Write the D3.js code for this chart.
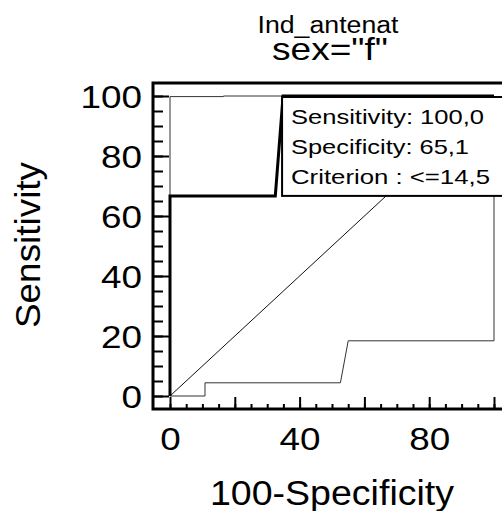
<!DOCTYPE html>
<html>
<head>
<meta charset="utf-8">
<script src="https://cdn.jsdelivr.net/npm/d3@7"></script>
<style>
  html, body { margin: 0; padding: 0; background: #fff; }
  svg { display: block; }
  text { font-family: "Liberation Sans", Arial, Helvetica, sans-serif; fill: #000; }
</style>
</head>
<body>
<svg id="chart" width="502" height="511"></svg>
<script>
// ---- data ----
const titleLine1 = "Ind_antenat";
const titleLine2 = 'sex="f"';
const xAxisTitle = "100-Specificity";
const yAxisTitle = "Sensitivity";

const xTickValues = [0, 40, 80];
const xTickMinor = d3.range(0, 101, 5);
const xTickMajorMarks = [0, 20, 40, 60, 80, 100];
const yTickValues = [0, 20, 40, 60, 80, 100];
const yTickMinor = d3.range(0, 101, 5);

// ROC curve (100-Specificity, Sensitivity)
const rocX = [0, 0, 32.5, 34.9, 100];
const rocY = [0, 66.7, 66.7, 100, 100];
// upper confidence bound
const upperX = [0, 0, 16.5, 16.5, 100];
const upperY = [0, 99.8, 99.8, 100, 100];
// lower confidence bound
const lowerX = [0, 10.8, 10.8, 52.6, 55, 100, 100];
const lowerY = [0, 0, 4.4, 4.4, 18.4, 18.4, 100];
// reference diagonal
const diagX = [0, 100];
const diagY = [0, 100];

const legendLines = ["Sensitivity: 100,0", "Specificity: 65,1", "Criterion : <=14,5"];

// ---- drawing ----
const svg = d3.select("#chart");
svg.append("rect").attr("width", 502).attr("height", 511).attr("fill", "#fff");

const x = d3.scaleLinear().domain([0, 100]).range([170, 494]);
const y = d3.scaleLinear().domain([0, 100]).range([396, 96]);

const frameLeft = 153, frameTop = 83, frameBottom = 409;

const line = d3.line().x(d => x(d[0])).y(d => y(d[1]));
const pts = (xs, ys) => xs.map((v, i) => [v, ys[i]]);

// curves
svg.append("path").datum(pts(diagX, diagY)).attr("d", line)
  .attr("fill", "none").attr("stroke", "#111").attr("stroke-width", 1);
svg.append("path").datum(pts(upperX, upperY)).attr("d", line)
  .attr("fill", "none").attr("stroke", "#333").attr("stroke-width", 1);
svg.append("path").datum(pts(lowerX, lowerY)).attr("d", line)
  .attr("fill", "none").attr("stroke", "#333").attr("stroke-width", 1);
svg.append("path").datum(pts(rocX, rocY)).attr("d", line)
  .attr("fill", "none").attr("stroke", "#000").attr("stroke-width", 3)
  .attr("stroke-linejoin", "miter");

// legend box anchored at the criterion point
const bx = x(34.9) - 1, by = y(100) + 1;
svg.append("rect").attr("x", bx).attr("y", by)
  .attr("width", 260).attr("height", y(66.7) - by)
  .attr("fill", "#fff").attr("stroke", "#000").attr("stroke-width", 2);
const legendLens = [193, 178, 199];
legendLines.forEach((t, i) => {
  svg.append("text").attr("x", 291).attr("y", 124 + i * 30)
    .attr("font-size", 21)
    .attr("textLength", legendLens[i]).attr("lengthAdjust", "spacingAndGlyphs")
    .text(t);
});

// frame
svg.append("rect").attr("x", frameLeft).attr("y", frameTop)
  .attr("width", 380).attr("height", frameBottom - frameTop)
  .attr("fill", "none").attr("stroke", "#000").attr("stroke-width", 3);

// y axis
const yMinorAxis = d3.axisLeft(y).tickValues(yTickMinor).tickSize(-10).tickFormat("");
const yAx = svg.append("g").attr("transform", `translate(${frameLeft},0)`).call(yMinorAxis);
yAx.select(".domain").remove();
yAx.selectAll(".tick line").attr("stroke", "#000").attr("stroke-width", 2);

const yMajorAxis = d3.axisLeft(y).tickValues(yTickValues).tickSize(-16).tickPadding(11);
const yAx2 = svg.append("g").attr("transform", `translate(${frameLeft},0)`).call(yMajorAxis);
yAx2.select(".domain").remove();
yAx2.selectAll(".tick line").attr("stroke", "#000").attr("stroke-width", 2);
yAx2.selectAll(".tick text")
  .attr("font-size", 31).attr("font-family", null).attr("fill", "#000")
  .attr("dy", "0.36em")
  .attr("textLength", d => String(d).length * 20.5).attr("lengthAdjust", "spacingAndGlyphs");

// x axis
const xMinorAxis = d3.axisBottom(x).tickValues(xTickMinor).tickSize(-5).tickFormat("");
const xAx = svg.append("g").attr("transform", `translate(0,${frameBottom})`).call(xMinorAxis);
xAx.select(".domain").remove();
xAx.selectAll(".tick line").attr("stroke", "#000").attr("stroke-width", 2);

const xMajorMarksAxis = d3.axisBottom(x).tickValues(xTickMajorMarks).tickSize(-12).tickFormat("");
const xAx3 = svg.append("g").attr("transform", `translate(0,${frameBottom})`).call(xMajorMarksAxis);
xAx3.select(".domain").remove();
xAx3.selectAll(".tick line").attr("stroke", "#000").attr("stroke-width", 2);

const xLabelAxis = d3.axisBottom(x).tickValues(xTickValues).tickSize(0).tickPadding(19);
const xAx2 = svg.append("g").attr("transform", `translate(0,${frameBottom})`).call(xLabelAxis);
xAx2.select(".domain").remove();
xAx2.selectAll(".tick text")
  .attr("font-size", 31).attr("font-family", null).attr("fill", "#000")
  .attr("textLength", d => String(d).length * 20.5).attr("lengthAdjust", "spacingAndGlyphs");

// titles
svg.append("text").attr("x", 328).attr("y", 33).attr("text-anchor", "middle")
  .attr("font-size", 23).attr("textLength", 141).attr("lengthAdjust", "spacingAndGlyphs")
  .text(titleLine1);
svg.append("text").attr("x", 330).attr("y", 60).attr("text-anchor", "middle")
  .attr("font-size", 32).attr("textLength", 116).attr("lengthAdjust", "spacingAndGlyphs")
  .text(titleLine2);

svg.append("text").attr("x", 332).attr("y", 505).attr("text-anchor", "middle")
  .attr("font-size", 35).attr("textLength", 244).attr("lengthAdjust", "spacingAndGlyphs")
  .text(xAxisTitle);

svg.append("text").attr("transform", "translate(40,245) rotate(-90)")
  .attr("text-anchor", "middle")
  .attr("font-size", 35).attr("textLength", 166).attr("lengthAdjust", "spacingAndGlyphs")
  .text(yAxisTitle);
</script>
</body>
</html>
